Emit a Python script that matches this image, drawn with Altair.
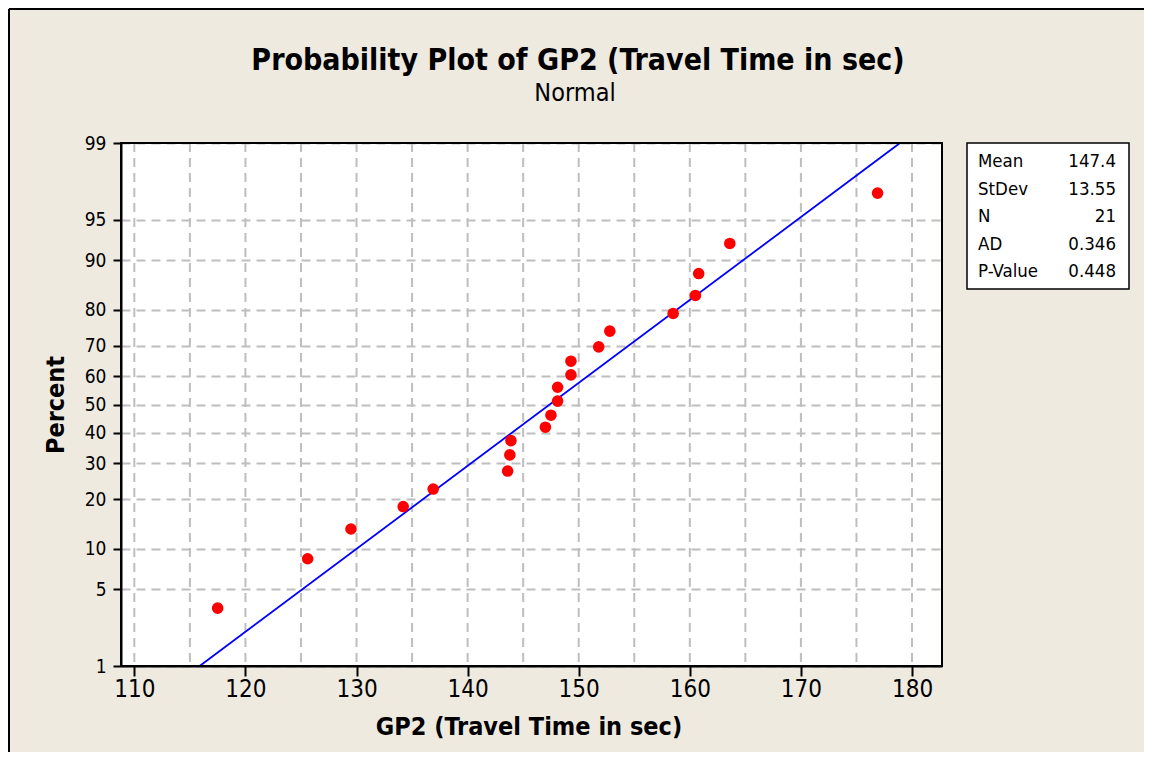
import altair as alt
import pandas as pd
from statistics import NormalDist

# ---- data ----
travel_time = [117.5, 125.6, 129.5, 134.2, 136.9, 143.6, 143.8, 143.9, 147.0, 147.5,
               148.1, 148.1, 149.3, 149.3, 151.8, 152.8, 158.5, 160.5, 160.8, 163.6, 176.9]
percent = [3.5, 8.5, 13.4, 18.2, 22.6, 27.7, 32.7, 37.4, 42.0, 46.2,
           51.2, 56.1, 60.4, 65.0, 69.6, 74.3, 79.1, 83.4, 87.8, 92.4, 97.0]
fit_x = [115.88, 178.92]
mean_val = 147.4
sd_val = 13.55
stat_labels = ["Mean", "StDev", "N", "AD", "P-Value"]
stat_values = ["147.4", "13.55", "21", "0.346", "0.448"]
percent_ticks = [1, 5, 10, 20, 30, 40, 50, 60, 70, 80, 90, 95, 99]
x_ticks = [110, 120, 130, 140, 150, 160, 170, 180]
x_grid = [110, 115, 120, 125, 130, 135, 140, 145, 150, 155, 160, 165, 170, 175, 180]

FONT = "DejaVu Sans Condensed, DejaVu Sans"
W, H = 821, 523
PAD = {"left": 113, "top": 135, "right": 202, "bottom": 86}
BG = "#EEEAE0"
GRID = "#BEBEBE"
DASH = [9, 6]

nd = NormalDist()
z_ticks = [nd.inv_cdf(p / 100) for p in percent_ticks]
y_dom = [z_ticks[0], z_ticks[-1]]

xscale = alt.Scale(domain=[108.8, 182.7], nice=False, zero=False)
yscale = alt.Scale(domain=y_dom, nice=False, zero=False)

xaxis = alt.Axis(values=x_ticks, grid=False, tickSize=10, tickWidth=2, tickColor="black",
                 domainColor="black", domainWidth=2, labelFontSize=24, labelPadding=1,
                 labelColor="black", labelFont=FONT, title="GP2 (Travel Time in sec)",
                 titleFontSize=25, titleFont=FONT, titleFontWeight="bold", titleColor="black",
                 titleX=W / 2 - 3, titleY=60, titleBaseline="middle", titleAlign="center")
yaxis = alt.Axis(values=z_ticks, labelExpr="round(cumulativeNormal(datum.value) * 100)",
                 grid=True, gridColor=GRID, gridDash=DASH, gridWidth=2,
                 tickSize=8, tickWidth=2, tickColor="black", domainColor="black", domainWidth=2,
                 labelFontSize=19, labelPadding=7, labelColor="black", labelFont=FONT,
                 title="Percent", titleFontSize=25, titleFont=FONT, titleFontWeight="bold",
                 titleColor="black", titleAngle=270, titleX=-66, titleY=H / 2,
                 titleBaseline="middle", titleAlign="center")

pts = pd.DataFrame({"x": travel_time, "percent": percent})
fit = pd.DataFrame({"x": fit_x})
grid = pd.DataFrame({"x": x_grid})

xg = alt.X("x:Q", scale=xscale, axis=xaxis, title="GP2 (Travel Time in sec)")
yg = alt.Y("z:Q", scale=yscale, axis=yaxis, title="Percent")

grid_layer = alt.Chart(grid).mark_rule(color=GRID, strokeDash=DASH, strokeWidth=2).encode(x=xg)

line_layer = alt.Chart(fit).transform_calculate(
    z=f"(datum.x - {mean_val}) / {sd_val}"
).mark_line(color="#0000FF", strokeWidth=1.8).encode(x=xg, y=yg)

pt_layer = alt.Chart(pts).transform_calculate(
    z="quantileNormal(datum.percent / 100)"
).mark_circle(size=135, color="#FF0000", opacity=1).encode(x=xg, y=yg)

one = alt.Data(values=[{"a": 1}])

plot_border = alt.Chart(one).mark_rect(fillOpacity=0, stroke="black", strokeWidth=2).encode(
    x=alt.value(0), x2=alt.value(W), y=alt.value(0), y2=alt.value(H))

title_layer = alt.Chart(one).mark_text(
    text="Probability Plot of GP2 (Travel Time in sec)", font=FONT, fontSize=30,
    fontWeight="bold", color="black", align="center", baseline="middle"
).encode(x=alt.value(457), y=alt.value(-82))

sub_layer = alt.Chart(one).mark_text(
    text="Normal", font=FONT, fontSize=25, color="black", align="center", baseline="middle"
).encode(x=alt.value(454), y=alt.value(-50))

box_layer = alt.Chart(one).mark_rect(fill="white", stroke="black", strokeWidth=1.5).encode(
    x=alt.value(846), x2=alt.value(1008), y=alt.value(0), y2=alt.value(146))

stat_layers = []
for i, (lab, val) in enumerate(zip(stat_labels, stat_values)):
    yy = 18 + i * 27.5
    stat_layers.append(alt.Chart(one).mark_text(
        text=lab, font=FONT, fontSize=18.5, color="black", align="left", baseline="middle"
    ).encode(x=alt.value(857), y=alt.value(yy)))
    stat_layers.append(alt.Chart(one).mark_text(
        text=val, font=FONT, fontSize=18.5, color="black", align="right", baseline="middle"
    ).encode(x=alt.value(995), y=alt.value(yy)))

frame_left = alt.Chart(one).mark_rule(color="black", strokeWidth=2).encode(
    x=alt.value(-112), y=alt.value(-134), y2=alt.value(H + PAD["bottom"]))
frame_top = alt.Chart(one).mark_rule(color="black", strokeWidth=2).encode(
    x=alt.value(-112), x2=alt.value(W + PAD["right"]), y=alt.value(-134))

chart = alt.layer(
    grid_layer, line_layer, pt_layer, plot_border, title_layer, sub_layer, box_layer,
    *stat_layers, frame_left, frame_top
).properties(
    width=W, height=H, padding=PAD, autosize="none", background=BG
).configure(
    font=FONT
).configure_view(
    fill="white", stroke="black", strokeWidth=2
)

chart.save("out.html", embed_options={"renderer": "svg", "actions": False})
